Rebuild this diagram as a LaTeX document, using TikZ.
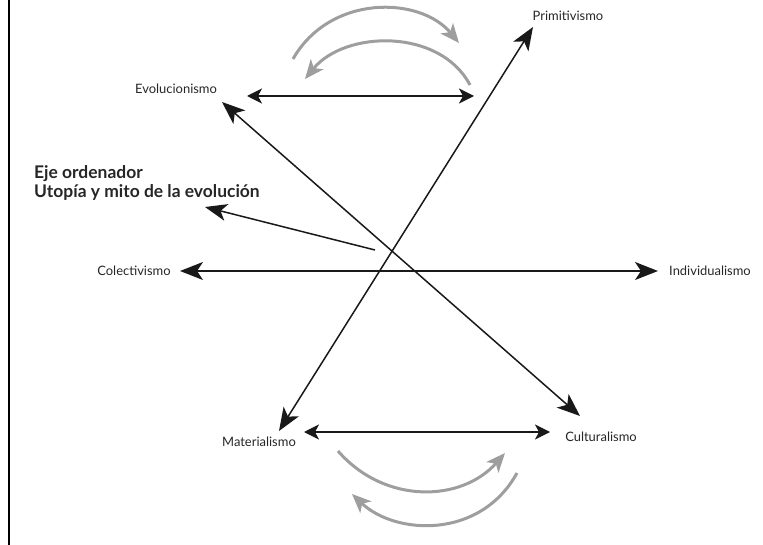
\documentclass[tikz,border=0pt]{standalone}
\usepackage{fontspec}
\setmainfont{Lato}
\usetikzlibrary{arrows.meta,positioning}
\tikzset{
  axis/.style={line width=1.5bp, draw=black!90, {Stealth[length=23bp,width=18bp,inset=6bp]}-{Stealth[length=23bp,width=18bp,inset=6bp]}},
  oneway/.style={line width=1.5bp, draw=black!90, -{Stealth[length=22bp,width=17bp,inset=6bp]}},
  pair/.style={line width=1.5bp, draw=black!90, {Stealth[length=15bp,width=15bp,inset=4bp]}-{Stealth[length=15bp,width=15bp,inset=4bp]}},
  turn/.style={line width=3bp, draw=black!38, -{Stealth[length=19bp,width=16bp,inset=5bp]}},
  pole/.style={font=\fontsize{13}{15}\selectfont, inner sep=0pt, text=black!85},
  title/.style={font=\bfseries\fontsize{17.5}{20}\selectfont, align=left, inner sep=0pt, text=black!85}
}
\begin{document}
\begin{tikzpicture}[x=1bp,y=-1bp]
            \useasboundingbox (0,0) rectangle (763,545);
            \draw[line width=1.5bp] (9,0) -- (9,545);

            % poles
            \node[pole] (evo) at (176,89) {Evolucionismo};
            \node[pole] (pri) at (568,16) {Primitivismo};
            \node[pole] (col) at (134,271) {Colectivismo};
            \node[pole] (ind) at (710,271) {Individualismo};
            \node[pole] (mat) at (259,442) {Materialismo};
            \node[pole] (cul) at (601,437) {Culturalismo};
            \node[title, anchor=west] (eje) at (34,183) {Eje ordenador\\Utopía y mito de la evolución};

            % arrow ends
            \coordinate (evoR) at (247,96);
            \coordinate (evoL) at (474,96);
            \coordinate (priT) at (533,27);
            \coordinate (matB) at (279,431);
            \coordinate (evoT) at (222,102);
            \coordinate (culB) at (580,416);
            \coordinate (colR) at (180,271);
            \coordinate (indL) at (658,271);
            \coordinate (matR) at (304,432);
            \coordinate (culL) at (550,432);
            \coordinate (ejeS) at (375,250);
            \coordinate (ejeT) at (205,207);

            \draw[axis] (matB) -- (priT);
            \draw[axis] (evoT) -- (culB);
            \draw[axis] (colR) -- (indL);
            \draw[oneway] (ejeS) -- (ejeT);
            \draw[pair] (evoR) -- (evoL);
            \draw[pair] (matR) -- (culL);

            % grey turns
            \draw[turn] (293,59) .. controls (330,-6) and (420,-4) .. (459,43);
            \draw[turn] (470,85) .. controls (440,28) and (345,30) .. (305,79);
            \draw[turn] (338,451) .. controls (385,505) and (462,502) .. (505,453);
            \draw[turn] (517,473) .. controls (480,540) and (395,535) .. (352,494);
\end{tikzpicture}
\end{document}
